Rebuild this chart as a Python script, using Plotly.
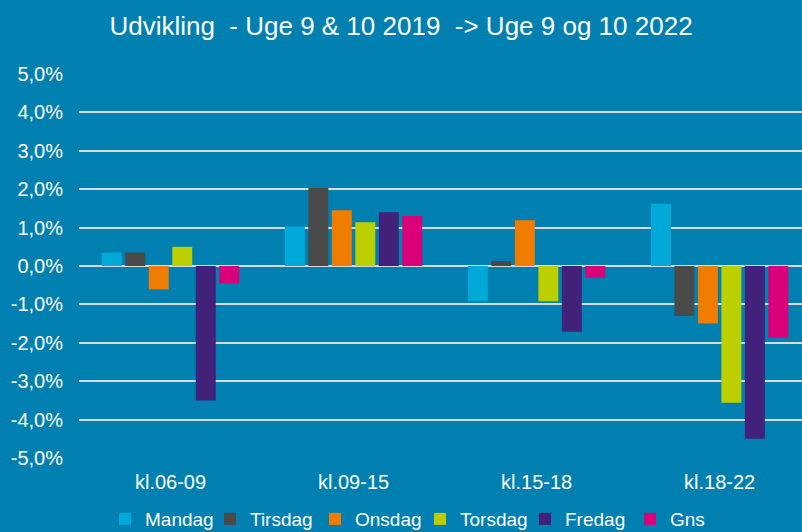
import plotly.graph_objects as go

categories = ["kl.06-09", "kl.09-15", "kl.15-18", "kl.18-22"]
series_names = ["Mandag", "Tirsdag", "Onsdag", "Torsdag", "Fredag", "Gns"]
mandag = [0.0035, 0.0103, -0.0092, 0.0162]
tirsdag = [0.0035, 0.0203, 0.0013, -0.0130]
onsdag = [-0.0061, 0.0145, 0.0119, -0.0150]
torsdag = [0.0050, 0.0114, -0.0092, -0.0356]
fredag = [-0.0350, 0.0140, -0.0171, -0.0450]
gns = [-0.0045, 0.0130, -0.0030, -0.0187]
tick_vals = [-0.05, -0.04, -0.03, -0.02, -0.01, 0, 0.01, 0.02, 0.03, 0.04, 0.05]
tick_text = ["-5,0%", "-4,0%", "-3,0%", "-2,0%", "-1,0%", "0,0%", "1,0%", "2,0%", "3,0%", "4,0%", "5,0%"]
title_text = "Udvikling  - Uge 9 & 10 2019  -> Uge 9 og 10 2022"

colors = ["#00a9d8", "#4a4a4a", "#f07d00", "#bccf00", "#42217a", "#d9007a"]
values = [mandag, tirsdag, onsdag, torsdag, fredag, gns]

bg = "#007fb1"
font_family = "Liberation Sans, Arial, sans-serif"

W, H = 802, 532

fig = go.Figure()
for name, vals, col in zip(series_names, values, colors):
    fig.add_trace(go.Bar(name=name, x=categories, y=vals, marker_color=col,
                         marker_line_width=0))

plot_left = 79
plot_top = 74
plot_bottom = 458
plot_h = plot_bottom - plot_top
plot_w = W - plot_left

fig.update_layout(
    width=W, height=H,
    paper_bgcolor=bg, plot_bgcolor=bg,
    margin=dict(l=plot_left, r=0, t=plot_top, b=H - plot_bottom, autoexpand=False),
    barmode="group", bargap=0.23, bargroupgap=0.15,
    title=dict(text=title_text, x=401 / W, xref="container", xanchor="center",
               y=1 - 26 / H, yref="container", yanchor="middle",
               font=dict(family=font_family, size=26, color="white")),
    font=dict(family=font_family, color="white"),
    legend=dict(orientation="h", x=(105 - 79) / plot_w, xanchor="left",
                y=-(519 - plot_bottom) / plot_h, yanchor="middle",
                font=dict(family=font_family, size=19, color="white"),
                bgcolor="rgba(0,0,0,0)", itemwidth=30, tracegroupgap=0,
                entrywidth=60, entrywidthmode="pixels",
                traceorder="normal"),
    showlegend=True,
)
fig.update_xaxes(range=[-0.5, 3.45], showgrid=False, zeroline=False, showline=False,
                 ticks="", tickfont=dict(family=font_family, size=20, color="white"),
                 ticklabelstandoff=10)
fig.update_yaxes(range=[-0.05, 0.05], tickvals=tick_vals, ticktext=tick_text,
                 showgrid=True, gridcolor="#d9d9d9", gridwidth=2,
                 zeroline=True, zerolinecolor="#d9d9d9", zerolinewidth=2,
                 showline=False, ticks="",
                 tickfont=dict(family=font_family, size=20, color="white"),
                 ticklabelstandoff=15)

fig.write_html("out.html", config={"displayModeBar": False},
               post_script="document.body.style.margin='0';document.body.style.background='" + bg + "';")
